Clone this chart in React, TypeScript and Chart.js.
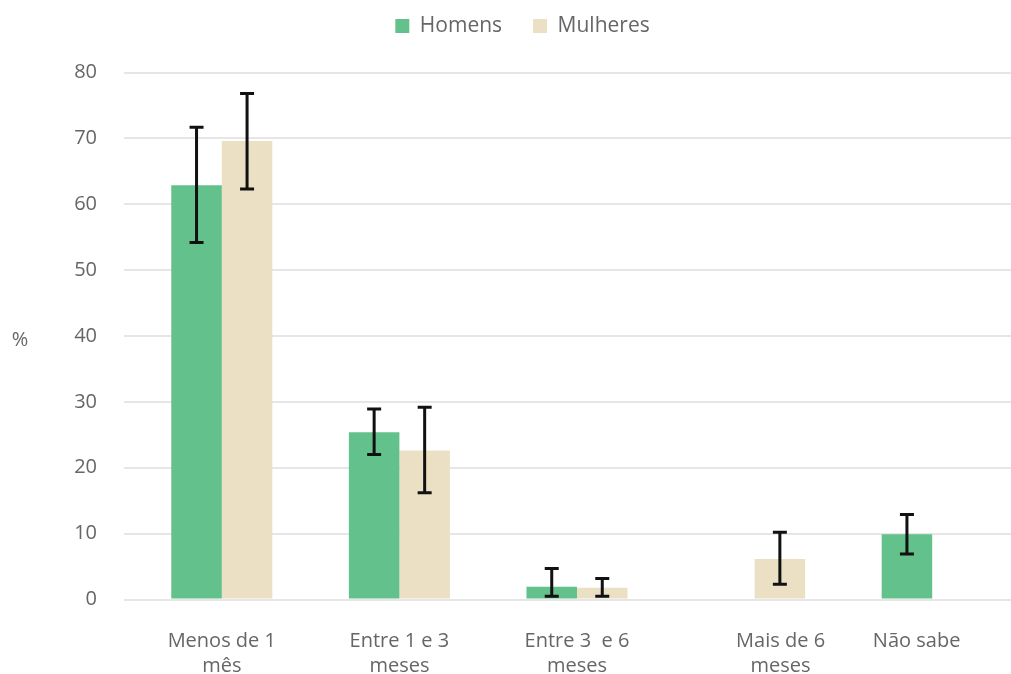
import React, { useEffect, useRef } from "react";
import { Chart, registerables } from "chart.js";

Chart.register(...registerables);

const categories: string[][] = [
  ["Menos de 1", "mês"],
  ["Entre 1 e 3", "meses"],
  ["Entre 3  e 6", "meses"],
  ["          Mais de 6", "          meses"],
  ["Não sabe      "],
];
const seriesNames = ["Homens", "Mulheres"];
const homens: (number | null)[] = [62.9, 25.4, 1.95, null, 9.9];
const mulheres: (number | null)[] = [69.6, 22.6, 1.8, 6.15, null];
const homensLow: (number | null)[] = [54.2, 22.0, 0.5, null, 6.9];
const homensHigh: (number | null)[] = [71.7, 28.9, 4.7, null, 12.9];
const mulheresLow: (number | null)[] = [62.3, 16.2, 0.5, 2.3, null];
const mulheresHigh: (number | null)[] = [76.8, 29.2, 3.2, 10.2, null];
const yMin = 0;
const yMax = 80;
const yStep = 10;
const yTitle = "%";

const errLow = [homensLow, mulheresLow];
const errHigh = [homensHigh, mulheresHigh];

const FONT = "'Open Sans', 'DejaVu Sans', sans-serif";
const TEXT = "#666666";
const GRID = "#e6e6e6";

const errorBarsPlugin = {
  id: "errorBars",
  afterDatasetsDraw(chart: any) {
    const ctx = chart.ctx;
    const y = chart.scales.y;
    chart.data.datasets.forEach((_ds: any, di: number) => {
      const meta = chart.getDatasetMeta(di);
      meta.data.forEach((el: any, i: number) => {
        const lo = errLow[di][i];
        const hi = errHigh[di][i];
        if (lo == null || hi == null) return;
        const x = el.x;
        const yl = y.getPixelForValue(lo);
        const yh = y.getPixelForValue(hi);
        ctx.save();
        ctx.strokeStyle = "#111111";
        ctx.lineWidth = 3;
        ctx.beginPath();
        ctx.moveTo(x, yh);
        ctx.lineTo(x, yl);
        ctx.moveTo(x - 7, yh);
        ctx.lineTo(x + 7, yh);
        ctx.moveTo(x - 7, yl);
        ctx.lineTo(x + 7, yl);
        ctx.stroke();
        ctx.restore();
      });
    });
  },
};

const yTitlePlugin = {
  id: "yTitleFlat",
  afterDraw(chart: any) {
    const ctx = chart.ctx;
    const a = chart.chartArea;
    ctx.save();
    ctx.fillStyle = TEXT;
    ctx.font = `20px ${FONT}`;
    ctx.textAlign = "center";
    ctx.textBaseline = "middle";
    ctx.fillText(yTitle, 20, (a.top + a.bottom) / 2 + 4);
    ctx.restore();
  },
};

export default function App() {
  const ref = useRef<HTMLCanvasElement | null>(null);
  useEffect(() => {
    if (!ref.current) return;
    Chart.defaults.font.family = FONT;
    Chart.defaults.color = TEXT;
    const chart = new Chart(ref.current, {
      type: "bar",
      data: {
        labels: categories,
        datasets: [
          {
            label: seriesNames[0],
            data: homens,
            backgroundColor: "#63c18b",
            borderWidth: 0,
            barPercentage: 1,
            categoryPercentage: 0.569,
          },
          {
            label: seriesNames[1],
            data: mulheres,
            backgroundColor: "#ebe0c4",
            borderWidth: 0,
            barPercentage: 1,
            categoryPercentage: 0.569,
          },
        ],
      },
      options: {
        responsive: false,
        animation: false,
        devicePixelRatio: 1,
        layout: { padding: { left: 24, right: 9, top: -15.5, bottom: 0 } },
        plugins: {
          legend: {
            position: "top",
            labels: {
              boxWidth: 14,
              boxHeight: 14,
              padding: 31,
              color: TEXT,
              font: { size: 21, family: FONT },
            },
          },
          title: {
            display: true,
            text: " ",
            position: "top",
            weight: 500,
            font: { size: 10, lineHeight: 1.2 },
            padding: { top: 7, bottom: 7 },
          },
          tooltip: { enabled: false },
        },
        scales: {
          x: {
            grid: { display: false, drawTicks: false },
            border: { display: false },
            ticks: {
              color: TEXT,
              font: { size: 20, family: FONT, lineHeight: 1.25 },
              padding: 29,
              maxRotation: 0,
              autoSkip: false,
            },
            afterFit: (s: any) => {
              s.height = 74.5;
            },
          },
          y: {
            min: yMin,
            max: yMax,
            grid: {
              color: GRID,
              lineWidth: 2,
              drawTicks: true,
              tickLength: 9,
              tickColor: GRID,
            },
            border: { display: false },
            ticks: {
              stepSize: yStep,
              color: TEXT,
              font: { size: 20, family: FONT },
              padding: 27,
            },
            afterFit: (s: any) => {
              s.width = 109;
            },
          },
        },
      },
      plugins: [errorBarsPlugin, yTitlePlugin],
    } as any);
    return () => chart.destroy();
  }, []);
  return (
    <div
      style={{
        position: "fixed",
        left: 0,
        top: 0,
        width: 1011,
        height: 674,
        overflow: "hidden",
        background: "#ffffff",
      }}
    >
      <canvas ref={ref} width={1030} height={674} style={{ width: 1030, height: 674, display: "block" }} />
    </div>
  );
}
